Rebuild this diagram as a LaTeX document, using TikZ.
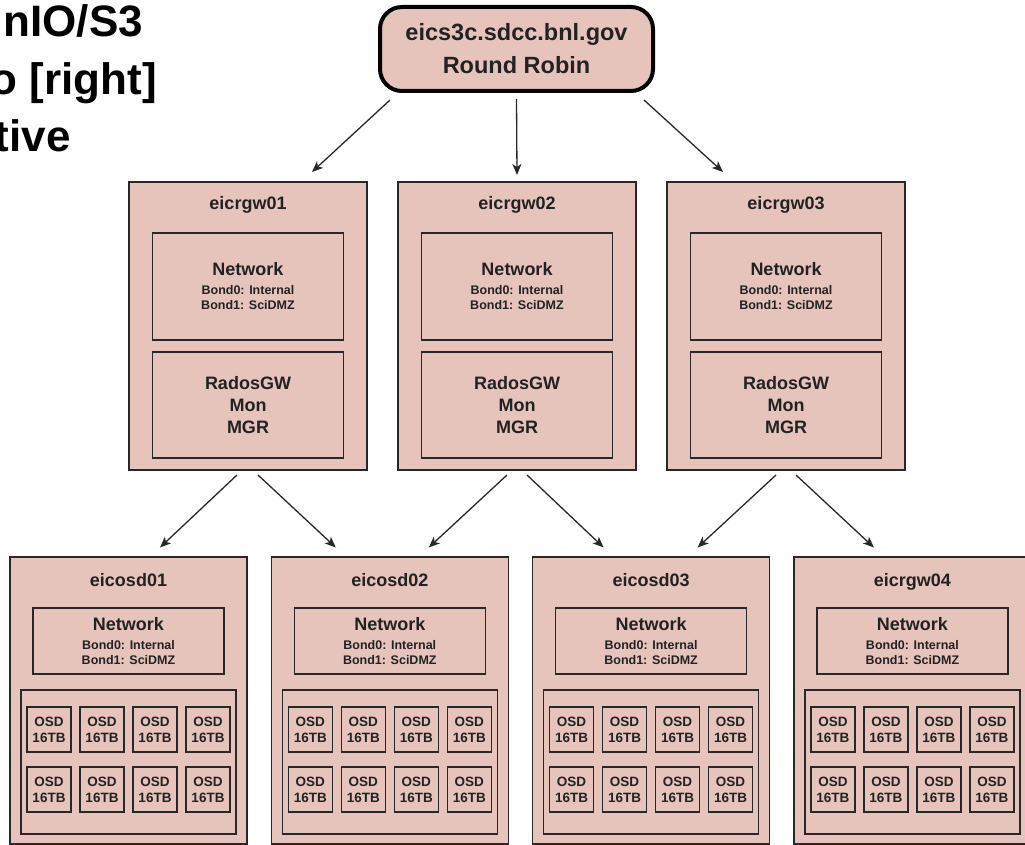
\documentclass[tikz,border=0pt]{standalone}
\usepackage{fontspec}
\setmainfont{Liberation Sans}
\usetikzlibrary{positioning}
\usetikzlibrary{arrows.meta}
\definecolor{boxFill}{RGB}{230,196,187}
\definecolor{boxLine}{RGB}{40,40,40}
\definecolor{boxText}{RGB}{34,34,34}
\tikzset{
    objRoundRobin/.style={rectangle, rounded corners=22pt, minimum width=273pt, minimum height=84pt, text centered, draw=black, line width=4pt, fill=boxFill, text=boxText, align=center, font=\fontsize{23.5}{33}\selectfont\bfseries},
    objHost/.style={rectangle, minimum width=238pt, minimum height=288pt, draw=boxLine, line width=1.5pt, fill=boxFill, outer sep=0pt},
    objPart/.style={rectangle, minimum width=191pt, draw=boxLine, line width=1.5pt, text=boxText, align=center, inner sep=0pt, outer sep=0pt, font=\fontsize{12.5}{15}\selectfont\bfseries},
    objPool/.style={rectangle, minimum width=215pt, minimum height=144pt, draw=boxLine, line width=1.5pt, outer sep=0pt},
    objDisk/.style={rectangle, minimum width=44pt, minimum height=45pt, draw=boxLine, line width=1.5pt, text=boxText, align=center, inner sep=0pt, font=\fontsize{13.5}{16}\selectfont\bfseries},
    objTitle/.style={inner sep=0pt, anchor=base, text=boxText, font=\fontsize{18}{21}\selectfont\bfseries},
    objHeading/.style={inner sep=0pt, anchor=base east, font=\fontsize{44}{57}\selectfont\bfseries},
    arrow/.style={line width=1.3pt, draw=boxLine, -{Stealth[length=11pt, width=9pt, inset=3pt]}}
}
\newcommand{\netText}{{\fontsize{18}{21}\selectfont Network}\\[4pt]Bond0: Internal\\Bond1: SciDMZ}

\begin{document}
\begin{tikzpicture}[x=1pt, y=-1pt]
  \useasboundingbox (0,0) rectangle (1025,845);
  \clip (0,0) rectangle (1025,845);

  \node (head1) [objHeading] at (143,37) {nIO/S3};
  \node (head2) [objHeading] at (157,95) {o [right]};
  \node (head3) [objHeading] at (71,152) {tive};

  \node (rr) [objRoundRobin] at (516.5,49) {eics3c.sdcc.bnl.gov\\Round Robin};

  % gateways
  \node (gw01) [objHost] at (248,326) {};
  \node (gw02) [objHost, right=31pt of gw01] {};
  \node (gw03) [objHost, right=31pt of gw02] {};

  \node (gw01title) [objTitle] at ([yshift=-28pt]gw01.north) {eicrgw01};
  \node (gw02title) [objTitle] at ([yshift=-28pt]gw02.north) {eicrgw02};
  \node (gw03title) [objTitle] at ([yshift=-28pt]gw03.north) {eicrgw03};

  \node (gw01net) [objPart, minimum height=107pt, below=51pt of gw01.north] {\netText};
  \node (gw02net) [objPart, minimum height=107pt, below=51pt of gw02.north] {\netText};
  \node (gw03net) [objPart, minimum height=107pt, below=51pt of gw03.north] {\netText};

  \node (gw01rgw) [objPart, minimum height=106pt, below=12pt of gw01net, font=\fontsize{18}{22}\selectfont\bfseries] {RadosGW\\Mon\\MGR};
  \node (gw02rgw) [objPart, minimum height=106pt, below=12pt of gw02net, font=\fontsize{18}{22}\selectfont\bfseries] {RadosGW\\Mon\\MGR};
  \node (gw03rgw) [objPart, minimum height=106pt, below=12pt of gw03net, font=\fontsize{18}{22}\selectfont\bfseries] {RadosGW\\Mon\\MGR};

  % storage hosts
  \node (osd01) [objHost, minimum width=237pt, minimum height=287pt] at (128.5,700.5) {};
  \node (osd02) [objHost, minimum width=237pt, minimum height=287pt, right=24.3pt of osd01] {};
  \node (osd03) [objHost, minimum width=237pt, minimum height=287pt, right=24.3pt of osd02] {};
  \node (osd04) [objHost, minimum width=237pt, minimum height=287pt, right=24.3pt of osd03] {};

  \node (osd01title) [objTitle] at ([yshift=-29pt]osd01.north) {eicosd01};
  \node (osd02title) [objTitle] at ([yshift=-29pt]osd02.north) {eicosd02};
  \node (osd03title) [objTitle] at ([yshift=-29pt]osd03.north) {eicosd03};
  \node (osd04title) [objTitle] at ([yshift=-29pt]osd04.north) {eicrgw04};

  \node (osd01net) [objPart, minimum height=66pt, below=51pt of osd01.north] {\netText};
  \node (osd02net) [objPart, minimum height=66pt, below=51pt of osd02.north] {\netText};
  \node (osd03net) [objPart, minimum height=66pt, below=51pt of osd03.north] {\netText};
  \node (osd04net) [objPart, minimum height=66pt, below=51pt of osd04.north] {\netText};

  \node (osd01pool) [objPool, below=16pt of osd01net] {};
  \node (osd02pool) [objPool, below=16pt of osd02net] {};
  \node (osd03pool) [objPool, below=16pt of osd03net] {};
  \node (osd04pool) [objPool, below=16pt of osd04net] {};

  \foreach \h in {01,02,03,04}
    \foreach \c in {1,...,4}
      \foreach \r/\dy in {1/32.5,2/-27.5}
        \node (osd\h disk\r\c) [objDisk] at ([xshift={(\c-2.5)*53pt}, yshift=\dy pt]osd\h pool.center) {OSD\\16TB};

  \draw[arrow] ([xshift=-126.5pt, yshift=-7pt]rr.south) -- ([xshift=64pt, yshift=10pt]gw01.north);
  \draw[arrow] ([yshift=-6pt]rr.south) -- ([yshift=7pt]gw02.north);
  \draw[arrow] ([xshift=127.5pt, yshift=-7pt]rr.south) -- ([xshift=-63pt, yshift=10pt]gw03.north);

  \draw[arrow] ([xshift=-11pt, yshift=-5pt]gw01.south) -- ([xshift=31.5pt, yshift=9.5pt]osd01.north);
  \draw[arrow] ([xshift=10pt, yshift=-5pt]gw01.south) -- ([xshift=-54pt, yshift=9.5pt]osd02.north);
  \draw[arrow] ([xshift=-10pt, yshift=-5pt]gw02.south) -- ([xshift=39pt, yshift=9.5pt]osd02.north);
  \draw[arrow] ([xshift=10pt, yshift=-5pt]gw02.south) -- ([xshift=-47.5pt, yshift=9.5pt]osd03.north);
  \draw[arrow] ([xshift=-10pt, yshift=-5pt]gw03.south) -- ([xshift=46.5pt, yshift=9.5pt]osd03.north);
  \draw[arrow] ([xshift=10pt, yshift=-5pt]gw03.south) -- ([xshift=-38.5pt, yshift=9.5pt]osd04.north);
\end{tikzpicture}
\end{document}
